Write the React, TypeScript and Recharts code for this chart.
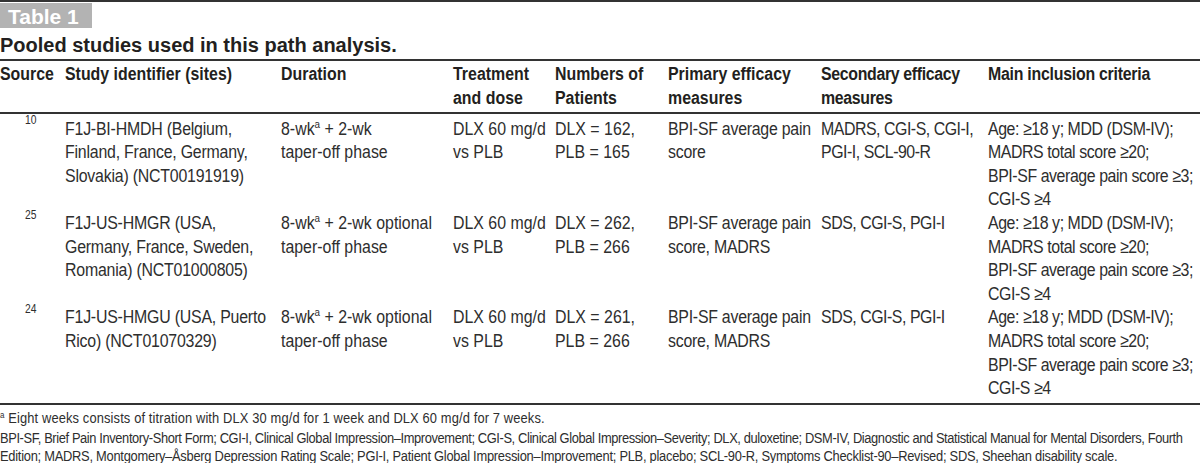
import React from "react";
import {
  ReferenceArea,
  ReferenceLine,
  Scatter,
  ScatterChart,
  XAxis,
  YAxis,
} from "recharts";

const W = 1200;
const H = 463;

const tableLabel = "Table 1";
const tableTitle = "Pooled studies used in this path analysis.";

const headers = [
  ["Source"],
  ["Study identifier (sites)"],
  ["Duration"],
  ["Treatment", "and dose"],
  ["Numbers of", "Patients"],
  ["Primary efficacy", "measures"],
  ["Secondary efficacy", "measures"],
  ["Main inclusion criteria"],
];

const sources = ["10", "25", "24"];
const studies = [
  ["F1J-BI-HMDH (Belgium,", "Finland, France, Germany,", "Slovakia) (NCT00191919)"],
  ["F1J-US-HMGR (USA,", "Germany, France, Sweden,", "Romania) (NCT01000805)"],
  ["F1J-US-HMGU (USA, Puerto", "Rico) (NCT01070329)"],
];
const durations = [
  ["8-wk^a + 2-wk", "taper-off phase"],
  ["8-wk^a + 2-wk optional", "taper-off phase"],
  ["8-wk^a + 2-wk optional", "taper-off phase"],
];
const treatments = [
  ["DLX 60 mg/d", "vs PLB"],
  ["DLX 60 mg/d", "vs PLB"],
  ["DLX 60 mg/d", "vs PLB"],
];
const patients = [
  ["DLX = 162,", "PLB = 165"],
  ["DLX = 262,", "PLB = 266"],
  ["DLX = 261,", "PLB = 266"],
];
const primary = [
  ["BPI-SF average pain", "score"],
  ["BPI-SF average pain", "score, MADRS"],
  ["BPI-SF average pain", "score, MADRS"],
];
const secondary = [
  ["MADRS, CGI-S, CGI-I,", "PGI-I, SCL-90-R"],
  ["SDS, CGI-S, PGI-I"],
  ["SDS, CGI-S, PGI-I"],
];
const criteria = [
  ["Age: ≥18 y; MDD (DSM-IV);", "MADRS total score ≥20;", "BPI-SF average pain score ≥3;", "CGI-S ≥4"],
  ["Age: ≥18 y; MDD (DSM-IV);", "MADRS total score ≥20;", "BPI-SF average pain score ≥3;", "CGI-S ≥4"],
  ["Age: ≥18 y; MDD (DSM-IV);", "MADRS total score ≥20;", "BPI-SF average pain score ≥3;", "CGI-S ≥4"],
];
const footnotes = [
  "^a Eight weeks consists of titration with DLX 30 mg/d for 1 week and DLX 60 mg/d for 7 weeks.",
  "BPI-SF, Brief Pain Inventory-Short Form; CGI-I, Clinical Global Impression–Improvement; CGI-S, Clinical Global Impression–Severity; DLX, duloxetine; DSM-IV, Diagnostic and Statistical Manual for Mental Disorders, Fourth",
  "Edition; MADRS, Montgomery–Åsberg Depression Rating Scale; PGI-I, Patient Global Impression–Improvement; PLB, placebo; SCL-90-R, Symptoms Checklist-90–Revised; SDS, Sheehan disability scale.",
];

// layout
const colX = [0, 65, 281, 453, 555, 668, 821, 988];
const colSpacing = [0, -0.25, 0, 0, 0, -0.3, -0.55, -0.5];
const headSpacing = [0, 0, 0, 0, 0, 0, -0.4, -0.3];
const footY = [418, 437.5, 455.5];
const footSpacing = [0.15, -0.45, -0.3];
const headY = 73;
const bodyY = 128;
const lineH = 23.6;
const rowLines = 4;
const rules = [1, 60, 113, 404];
const SANS = "'Liberation Sans', Arial, Helvetica, sans-serif";
const NARROW = 0.86;

type Kind = "head" | "body" | "src" | "title" | "label" | "foot";
type Cell = {
  x: number;
  y: number;
  lines: string[];
  kind: Kind;
  ls?: number;
};

const cells: Cell[] = [];
headers.forEach((h, c) => cells.push({ x: colX[c], y: headY, lines: h, kind: "head", ls: headSpacing[c] }));
const bodyCols = [studies, durations, treatments, patients, primary, secondary, criteria];
sources.forEach((s, r) => {
  const y = bodyY + r * rowLines * lineH;
  cells.push({ x: 25, y: y - 8, lines: [s], kind: "src" });
  bodyCols.forEach((col, c) =>
    cells.push({ x: colX[c + 1], y, lines: col[r], kind: "body", ls: colSpacing[c + 1] })
  );
});
cells.push({ x: 8, y: 16, lines: [tableLabel], kind: "label" });
cells.push({ x: 0, y: 45, lines: [tableTitle], kind: "title" });
footnotes.forEach((f, i) => cells.push({ x: 0, y: footY[i], lines: [f], kind: "foot", ls: footSpacing[i] }));

const styles: Record<Kind, any> = {
  head: { fontSize: 18.5, fontWeight: 700, fill: "#231f20", sx: NARROW },
  body: { fontSize: 18.5, fill: "#2e2e2e", sx: NARROW },
  src: { fontSize: 12, fill: "#2e2e2e", sx: NARROW },
  title: { fontSize: 20, fontWeight: 700, fill: "#231f20", sx: 1 },
  label: { fontSize: 21, fontWeight: 700, fill: "#ffffff", sx: 1 },
  foot: { fontSize: 15, fill: "#2e2e2e", sx: NARROW },
};

function renderLine(s: string, size: number) {
  const parts = s.split("^a");
  if (parts.length === 1) return s;
  return [
    parts[0],
    <tspan key="s" dy={-size * 0.38} fontSize={size * 0.62}>
      a
    </tspan>,
    <tspan key="r" dy={size * 0.38}>
      {parts[1]}
    </tspan>,
  ];
}

function CellText(props: any) {
  const { cx, cy, payload } = props;
  const { sx, fontSize, ...st } = styles[payload.kind as Kind];
  const step = payload.kind === "head" ? 24 : lineH;
  return (
    <g>
      {payload.lines.map((l: string, i: number) => (
        <g key={i} transform={`translate(${cx},${cy + i * step + fontSize * 0.36}) scale(${sx},1)`}>
          <text x={0} y={0} fontFamily={SANS} fontSize={fontSize} letterSpacing={payload.ls ?? 0} {...st}>
            {renderLine(l, fontSize)}
          </text>
        </g>
      ))}
    </g>
  );
}

export default function App() {
  return (
    <div style={{ width: W, height: H, background: "#fff" }}>
      <style>{"body{margin:0}"}</style>
      <ScatterChart width={W} height={H} margin={{ top: 0, right: 0, bottom: 0, left: 0 }}>
        <XAxis type="number" dataKey="x" domain={[0, W]} hide allowDataOverflow />
        <YAxis type="number" dataKey="y" domain={[0, H]} reversed hide allowDataOverflow />
        <ReferenceArea x1={0} x2={92} y1={3} y2={28} fill="#b3b3b3" fillOpacity={1} stroke="none" />
        {rules.map((y) => (
          <ReferenceLine key={y} y={y} stroke="#333333" strokeWidth={2} />
        ))}
        <Scatter data={cells} shape={CellText} isAnimationActive={false} />
      </ScatterChart>
    </div>
  );
}
